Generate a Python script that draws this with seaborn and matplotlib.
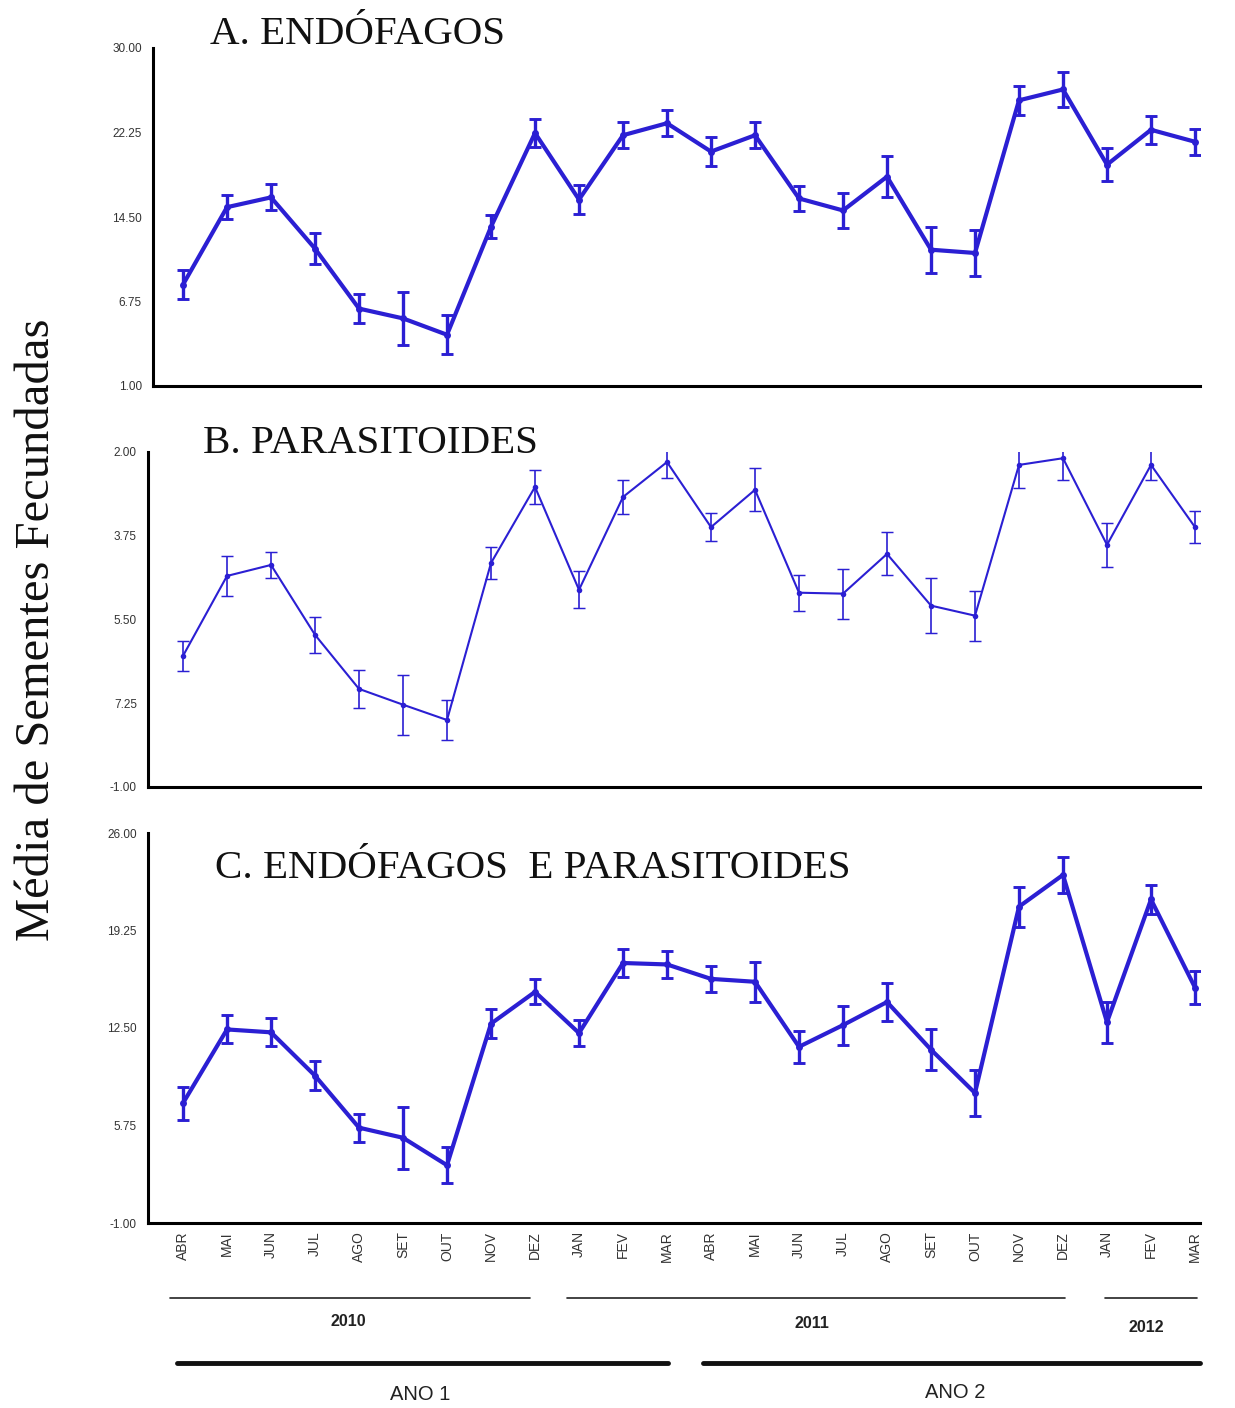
import numpy as np
import pandas as pd
import matplotlib
matplotlib.use("Agg")
import matplotlib.pyplot as plt
import seaborn as sns
from matplotlib.lines import Line2D

# ---------------- data ----------------
months = ["ABR", "MAI", "JUN", "JUL", "AGO", "SET", "OUT", "NOV", "DEZ", "JAN", "FEV", "MAR",
          "ABR", "MAI", "JUN", "JUL", "AGO", "SET", "OUT", "NOV", "DEZ", "JAN", "FEV", "MAR"]

endofagos = [8.3, 15.4, 16.3, 11.6, 6.1, 5.2, 3.7, 13.6, 22.2, 16.1, 22.0, 23.1,
             20.5, 22.0, 16.2, 15.1, 18.2, 11.5, 11.2, 25.2, 26.2, 19.3, 22.5, 21.4]
endofagos_err = [1.3, 1.1, 1.2, 1.4, 1.3, 2.4, 1.8, 1.05, 1.3, 1.3, 1.2, 1.2,
                 1.3, 1.2, 1.15, 1.6, 1.9, 2.1, 2.1, 1.3, 1.6, 1.5, 1.3, 1.2]

parasitoides = [6.26, 4.59, 4.36, 5.82, 6.95, 7.28, 7.60, 4.32, 2.73, 4.88, 2.94, 2.21,
                3.57, 2.79, 4.94, 4.96, 4.13, 5.21, 5.42, 2.27, 2.13, 3.94, 2.27, 3.57]
parasitoides_err = [0.31, 0.41, 0.27, 0.37, 0.39, 0.63, 0.42, 0.33, 0.36, 0.39, 0.35, 0.33,
                    0.30, 0.45, 0.38, 0.52, 0.45, 0.57, 0.52, 0.49, 0.46, 0.46, 0.32, 0.34]

ambos = [7.3, 12.4, 12.2, 9.2, 5.6, 4.9, 3.0, 12.8, 15.0, 12.15, 17.0, 16.9,
         15.9, 15.7, 11.2, 12.7, 14.3, 11.0, 8.0, 20.9, 23.1, 12.9, 21.4, 15.3]
ambos_err = [1.15, 0.97, 0.96, 0.99, 0.96, 2.16, 1.23, 1.0, 0.87, 0.92, 1.0, 0.95,
             0.88, 1.38, 1.12, 1.35, 1.33, 1.44, 1.6, 1.38, 1.23, 1.43, 1.0, 1.15]

ticks_a = [-1.0, 6.75, 14.5, 22.25, 30.0]
labels_a = ["1.00", "6.75", "14.50", "22.25", "30.00"]
ticks_b = [2.0, 3.75, 5.5, 7.25, 9.0]
labels_b = ["2.00", "3.75", "5.50", "7.25", "-1.00"]
ticks_c = [-1.0, 5.75, 12.5, 19.25, 26.0]
labels_c = ["-1.00", "5.75", "12.50", "19.25", "26.00"]

titles = ["A. ENDÓFAGOS", "B. PARASITOIDES", "C. ENDÓFAGOS  E PARASITOIDES"]
years = ["2010", "2011", "2012"]
anos = ["ANO 1", "ANO 2"]
ylabel = "Média de Sementes Fecundadas"

# ---------------- style ----------------
sns.set_theme(style="white")
plt.rcParams["font.family"] = ["Liberation Sans", "DejaVu Sans"]

W, H = 1235, 1408
fig = plt.figure(figsize=(W / 100, H / 100), dpi=100)
BLUE = "#2b1fd3"

def fx(px):
    return px / W

def fy(py):
    return 1 - py / H

x = np.arange(len(months))

panels = [
    # left, top, bottom (px), values, errors, ticks, labels, ylim, lw, ms
    (153, 48, 386, endofagos, endofagos_err, ticks_a, labels_a, (-1, 30), 3.0, 5),
    (148, 452, 787, parasitoides, parasitoides_err, ticks_b, labels_b, (9, 2), 1.5, 4),
    (148, 833, 1223, ambos, ambos_err, ticks_c, labels_c, (-1, 26), 3.0, 5),
]

axes = []
for i, (lpx, tpx, bpx, vals, errs, tks, tls, ylim, lw, ms) in enumerate(panels):
    right_px = 1200
    ax = fig.add_axes([fx(lpx), fy(bpx), fx(right_px - lpx), (bpx - tpx) / H])
    df = pd.DataFrame({"x": x, "y": vals})
    sns.lineplot(data=df, x="x", y="y", ax=ax, color=BLUE, linewidth=lw,
                 marker="o", markersize=ms, markeredgewidth=0)
    ax.errorbar(x, vals, yerr=errs, fmt="none", ecolor=BLUE,
                elinewidth=lw * 0.8, capsize=4, capthick=lw * 0.7)
    ax.set_xlim((lpx - 183) / 44.0, (right_px - 183) / 44.0)
    ax.set_ylim(*ylim)
    ax.set_yticks(tks)
    ax.set_yticklabels(tls, fontsize=8.5, color="#333333")
    ax.set_xticks(x)
    if i == 2:
        ax.set_xticklabels(months, rotation=90, fontsize=10, color="#333333")
    else:
        ax.set_xticklabels([])
    ax.set_xlabel("")
    ax.set_ylabel("")
    for s in ["top", "right"]:
        ax.spines[s].set_visible(False)
    for s in ["left", "bottom"]:
        ax.spines[s].set_color("black")
        ax.spines[s].set_linewidth(2.2)
    xw = 2.5 if i != 1 else 2.0
    ax.tick_params(axis="x", direction="in", length=9, width=xw, color="black", pad=6)
    ax.tick_params(axis="y", direction="in", length=8, width=2, color="black", pad=8)
    ax.set_facecolor("white")
    axes.append(ax)

# titles
title_pos = [(210, 35), (203, 443), (215, 868)]
for (tx, ty), t in zip(title_pos, titles):
    fig.text(fx(tx), fy(ty), t, family="Liberation Serif", fontsize=29.5,
             ha="left", va="center", color="#111111")

# y label
fig.text(fx(37), fy(630), ylabel, family="Liberation Serif", fontsize=35,
         rotation=90, ha="center", va="center", color="#111111")

# year lines and labels
year_spans = [(170, 530), (567, 1065), (1105, 1197)]
year_pos = [(348, 1322), (812, 1323), (1146, 1327)]
for (a, b), (tx, ty), lab in zip(year_spans, year_pos, years):
    fig.add_artist(Line2D([fx(a), fx(b)], [fy(1298), fy(1298)], color="#222222", lw=1.2))
    fig.text(fx(tx), fy(ty), lab, fontsize=11.5, fontweight="bold", color="#222222",
             ha="center", va="center")

ano_spans = [(177, 668), (703, 1200)]
ano_pos = [(420, 1395), (955, 1393)]
for (a, b), (tx, ty), lab in zip(ano_spans, ano_pos, anos):
    fig.add_artist(Line2D([fx(a), fx(b)], [fy(1363), fy(1363)], color="#111111", lw=3.5))
    fig.text(fx(tx), fy(ty), lab, fontsize=14.5, color="#222222", ha="center", va="center")

fig.savefig("out.png", dpi=100, facecolor="white")
